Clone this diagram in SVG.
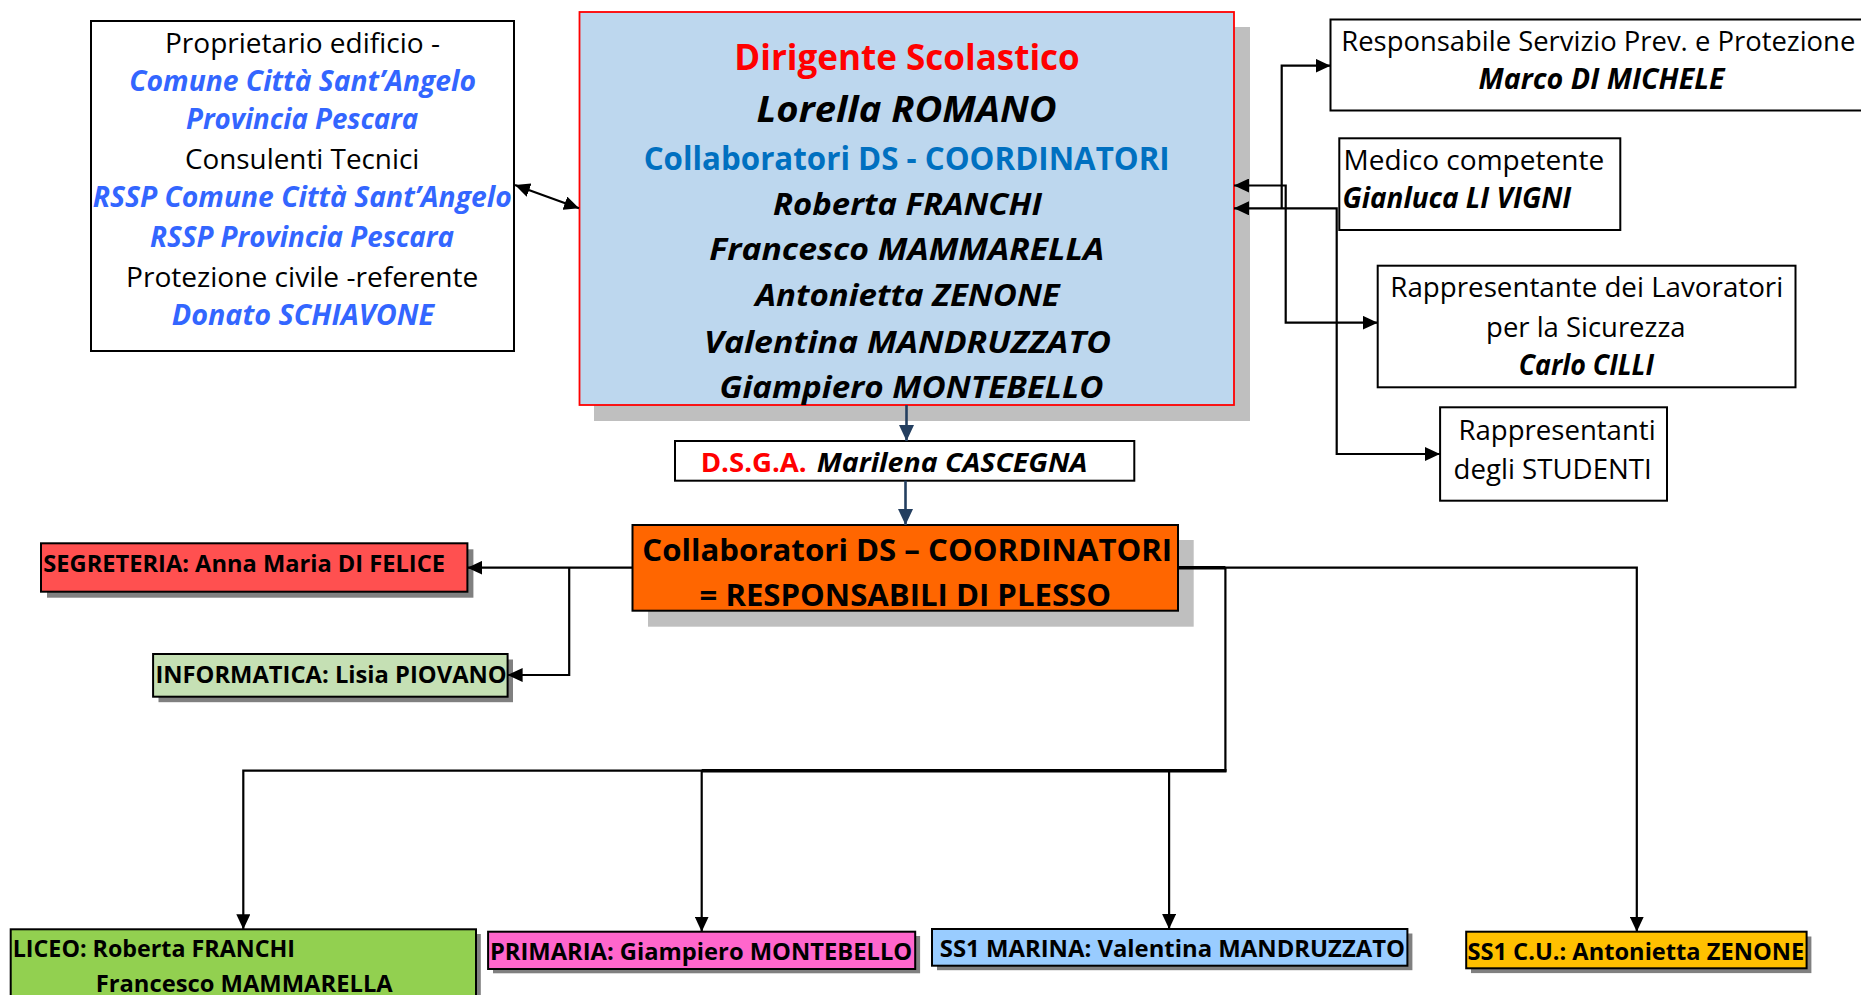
<svg xmlns="http://www.w3.org/2000/svg" width="1861" height="995" viewBox="0 0 1861 995">
<style>
text{font-family:"Open Sans","Liberation Sans",sans-serif;}
.r{font-size:28px;fill:#000;}
.bi{font-size:28px;font-weight:bold;font-style:italic;}
.blue{fill:#3366FF;}
.k{fill:#000;}
.box{fill:#fff;stroke:#000;stroke-width:2;}
.sm{font-size:23px;font-weight:bold;fill:#000;}
.sh{fill:#808080;}
.lsh{fill:#BFBFBF;}
.c{fill:none;stroke:#000;stroke-width:2.2;}
.ct{fill:none;stroke:#000;stroke-width:3.6;}
.nv{fill:none;stroke:#243F60;stroke-width:2.6;}
</style>
<defs>
<marker id="ah" markerUnits="userSpaceOnUse" markerWidth="15" markerHeight="14" refX="15" refY="7" orient="auto-start-reverse">
<path d="M0,0 L15,7 L0,14 z" fill="#000"/>
</marker>
<marker id="an" markerUnits="userSpaceOnUse" markerWidth="16" markerHeight="15" refX="16" refY="7.5" orient="auto">
<path d="M0,0 L16,7.5 L0,15 z" fill="#243F60"/>
</marker>
</defs>
<rect width="1861" height="995" fill="#fff"/>

<g id="node-proprietario">
<rect class="box" x="91" y="21" width="423" height="330"/>
<text class="r" x="165" y="52.7" textLength="275" lengthAdjust="spacingAndGlyphs">Proprietario edificio -</text>
<text class="bi blue" x="129.3" y="90.7" textLength="346.7" lengthAdjust="spacingAndGlyphs">Comune Città Sant’Angelo</text>
<text class="bi blue" x="186" y="129.3" textLength="232.3" lengthAdjust="spacingAndGlyphs">Provincia Pescara</text>
<text class="r" x="185" y="168.7" textLength="234.3" lengthAdjust="spacingAndGlyphs">Consulenti Tecnici</text>
<text class="bi blue" x="92.7" y="207.3" textLength="419" lengthAdjust="spacingAndGlyphs">RSSP Comune Città Sant’Angelo</text>
<text class="bi blue" x="150" y="247.3" textLength="304" lengthAdjust="spacingAndGlyphs">RSSP Provincia Pescara</text>
<text class="r" x="126" y="286.7" textLength="352.3" lengthAdjust="spacingAndGlyphs">Protezione civile -referente</text>
<text class="bi blue" x="171.7" y="325" textLength="262.3" lengthAdjust="spacingAndGlyphs">Donato SCHIAVONE</text>
</g>

<g id="node-dirigente">
<rect class="lsh" x="594" y="27" width="656" height="394"/>
<rect x="579.5" y="12" width="654.5" height="393" fill="#BDD7EE" stroke="#FF0000" stroke-width="1.8"/>
<text x="734.3" y="70" font-size="35" font-weight="bold" fill="#FF0000" textLength="345.5" lengthAdjust="spacingAndGlyphs">Dirigente Scolastico</text>
<text x="756.6" y="121.7" font-size="35" font-weight="bold" font-style="italic" fill="#000" textLength="300" lengthAdjust="spacingAndGlyphs">Lorella ROMANO</text>
<text x="643.7" y="170" font-size="32" font-weight="bold" fill="#0070C0" textLength="526" lengthAdjust="spacingAndGlyphs">Collaboratori DS - COORDINATORI</text>
<text x="773.1" y="215" font-size="31" font-weight="bold" font-style="italic" fill="#000" textLength="268.8" lengthAdjust="spacingAndGlyphs">Roberta FRANCHI</text>
<text x="709.3" y="260" font-size="31" font-weight="bold" font-style="italic" fill="#000" textLength="395" lengthAdjust="spacingAndGlyphs">Francesco MAMMARELLA</text>
<text x="755.3" y="306" font-size="31" font-weight="bold" font-style="italic" fill="#000" textLength="304.4" lengthAdjust="spacingAndGlyphs">Antonietta ZENONE</text>
<text x="703.9" y="352.7" font-size="31" font-weight="bold" font-style="italic" fill="#000" textLength="407.2" lengthAdjust="spacingAndGlyphs">Valentina MANDRUZZATO</text>
<text x="719.6" y="397.7" font-size="31" font-weight="bold" font-style="italic" fill="#000" textLength="383.9" lengthAdjust="spacingAndGlyphs">Giampiero MONTEBELLO</text>
</g>

<g id="node-rspp">
<path d="M1861,19.5 H1330.5 V110.5 H1861" fill="#fff" stroke="#000" stroke-width="2"/>
<text x="1341.3" y="50.5" font-size="27" fill="#000" textLength="514" lengthAdjust="spacingAndGlyphs">Responsabile Servizio Prev. e Protezione</text>
<text class="bi k" x="1478.5" y="89.3" textLength="246" lengthAdjust="spacingAndGlyphs">Marco DI MICHELE</text>
</g>

<g id="node-medico">
<rect class="box" x="1339.3" y="138.3" width="281" height="91.7"/>
<text class="r" x="1343.6" y="170" textLength="260.6" lengthAdjust="spacingAndGlyphs">Medico competente</text>
<text class="bi k" x="1342.4" y="208.3" textLength="228.8" lengthAdjust="spacingAndGlyphs">Gianluca LI VIGNI</text>
</g>

<g id="node-rls">
<rect class="box" x="1377.7" y="265.7" width="417.8" height="121.6"/>
<text class="r" x="1390.3" y="296.7" textLength="392.9" lengthAdjust="spacingAndGlyphs">Rappresentante dei Lavoratori</text>
<text class="r" x="1486.1" y="336.7" textLength="199.4" lengthAdjust="spacingAndGlyphs">per la Sicurezza</text>
<text class="bi k" x="1518.7" y="374.5" textLength="135.3" lengthAdjust="spacingAndGlyphs">Carlo CILLI</text>
</g>

<g id="node-studenti">
<rect class="box" x="1440.1" y="407.3" width="226.9" height="93.4"/>
<text class="r" x="1458.5" y="440" textLength="197.1" lengthAdjust="spacingAndGlyphs">Rappresentanti</text>
<text class="r" x="1453.6" y="478.5" textLength="198.1" lengthAdjust="spacingAndGlyphs">degli STUDENTI</text>
</g>

<g id="node-dsga">
<rect class="box" x="675" y="441" width="459.3" height="39.7"/>
<text x="700.7" y="472.3" font-size="27" font-weight="bold" fill="#FF0000" textLength="106" lengthAdjust="spacingAndGlyphs">D.S.G.A.</text>
<text x="816.7" y="472.3" font-size="27" font-weight="bold" font-style="italic" fill="#000" textLength="270.6" lengthAdjust="spacingAndGlyphs">Marilena CASCEGNA</text>
</g>

<g id="node-collaboratori">
<rect class="lsh" x="648" y="540" width="545.7" height="86.7"/>
<rect x="632.5" y="525" width="545.5" height="85.7" fill="#FF6600" stroke="#000" stroke-width="2"/>
<text x="642.3" y="560.7" font-size="31" font-weight="bold" fill="#000" textLength="529.9" lengthAdjust="spacingAndGlyphs">Collaboratori DS – COORDINATORI</text>
<text x="699.5" y="606" font-size="31" font-weight="bold" fill="#000" textLength="411.5" lengthAdjust="spacingAndGlyphs">= RESPONSABILI DI PLESSO</text>
</g>

<g id="node-segreteria">
<rect class="sh" x="47" y="549.3" width="426.4" height="48.4"/>
<rect x="41" y="543.3" width="426.4" height="48.4" fill="#FF5050" stroke="#000" stroke-width="2"/>
<text class="sm" x="43.3" y="571.7" textLength="401.7" lengthAdjust="spacingAndGlyphs">SEGRETERIA: Anna Maria DI FELICE</text>
</g>

<g id="node-informatica">
<rect class="sh" x="158.5" y="659.5" width="354.5" height="42.7"/>
<rect x="153.1" y="654" width="354.5" height="42.7" fill="#C5E0B4" stroke="#000" stroke-width="2"/>
<text class="sm" x="155.4" y="683.3" textLength="351.3" lengthAdjust="spacingAndGlyphs">INFORMATICA: Lisia PIOVANO</text>
</g>

<g id="node-liceo">
<rect class="sh" x="15.5" y="934" width="465.3" height="80"/>
<rect x="10.7" y="929.3" width="465.3" height="80" fill="#92D050" stroke="#000" stroke-width="2"/>
<text class="sm" x="12.7" y="957.3" textLength="282.3" lengthAdjust="spacingAndGlyphs">LICEO: Roberta FRANCHI</text>
<text class="sm" x="95.7" y="991.7" textLength="297" lengthAdjust="spacingAndGlyphs">Francesco MAMMARELLA</text>
</g>

<g id="node-primaria">
<rect class="sh" x="493" y="936" width="427.1" height="37.3"/>
<rect x="488.1" y="931.7" width="427.1" height="37.3" fill="#FF66CC" stroke="#000" stroke-width="2"/>
<text class="sm" x="489.9" y="960" textLength="422.3" lengthAdjust="spacingAndGlyphs">PRIMARIA: Giampiero MONTEBELLO</text>
</g>

<g id="node-marina">
<rect class="sh" x="937" y="933.5" width="475.4" height="36.7"/>
<rect x="932" y="929" width="475.4" height="36.7" fill="#99CCFF" stroke="#000" stroke-width="2"/>
<text class="sm" x="939.8" y="957.3" textLength="465.2" lengthAdjust="spacingAndGlyphs">SS1 MARINA: Valentina MANDRUZZATO</text>
</g>

<g id="node-cu">
<rect class="sh" x="1471" y="936.5" width="340.4" height="36.6"/>
<rect x="1466.2" y="931.7" width="340.4" height="36.6" fill="#FFC000" stroke="#000" stroke-width="2"/>
<text class="sm" x="1467.4" y="960" textLength="336.8" lengthAdjust="spacingAndGlyphs">SS1 C.U.: Antonietta ZENONE</text>
</g>

<g id="connectors">
<line class="c" x1="515" y1="185" x2="579" y2="208.3" marker-start="url(#ah)" marker-end="url(#ah)"/>
<path class="c" d="M1234,185.5 H1285.7 V322.7 H1377.7" marker-start="url(#ah)" marker-end="url(#ah)"/>
<path class="c" d="M1234,208.3 H1336.7 V454 H1440" marker-start="url(#ah)" marker-end="url(#ah)"/>
<path class="c" d="M1281.7,208.3 V65.7 H1330.5" marker-end="url(#ah)"/>
<path class="nv" d="M906.5,405 V441" marker-end="url(#an)"/>
<path class="nv" d="M905.5,480.7 V525" marker-end="url(#an)"/>
<path class="c" d="M632.5,567.7 H467.4" marker-end="url(#ah)"/>
<path class="c" d="M569.2,567.7 V675 H507.6" marker-end="url(#ah)"/>
<path class="c" d="M1178,567.7 H1636.8 V931.7" marker-end="url(#ah)"/>
<path class="c" d="M1225.4,567.7 V770.7 H243.3 V929.3" marker-end="url(#ah)"/>
<path class="c" d="M701.7,770.7 V931.7" marker-end="url(#ah)"/>
<path class="c" d="M1169.1,770.7 V929" marker-end="url(#ah)"/>
<path class="ct" d="M1178,567.7 H1225.4"/>
<path class="ct" d="M701.7,770.7 H1226.5"/>
</g>
</svg>
